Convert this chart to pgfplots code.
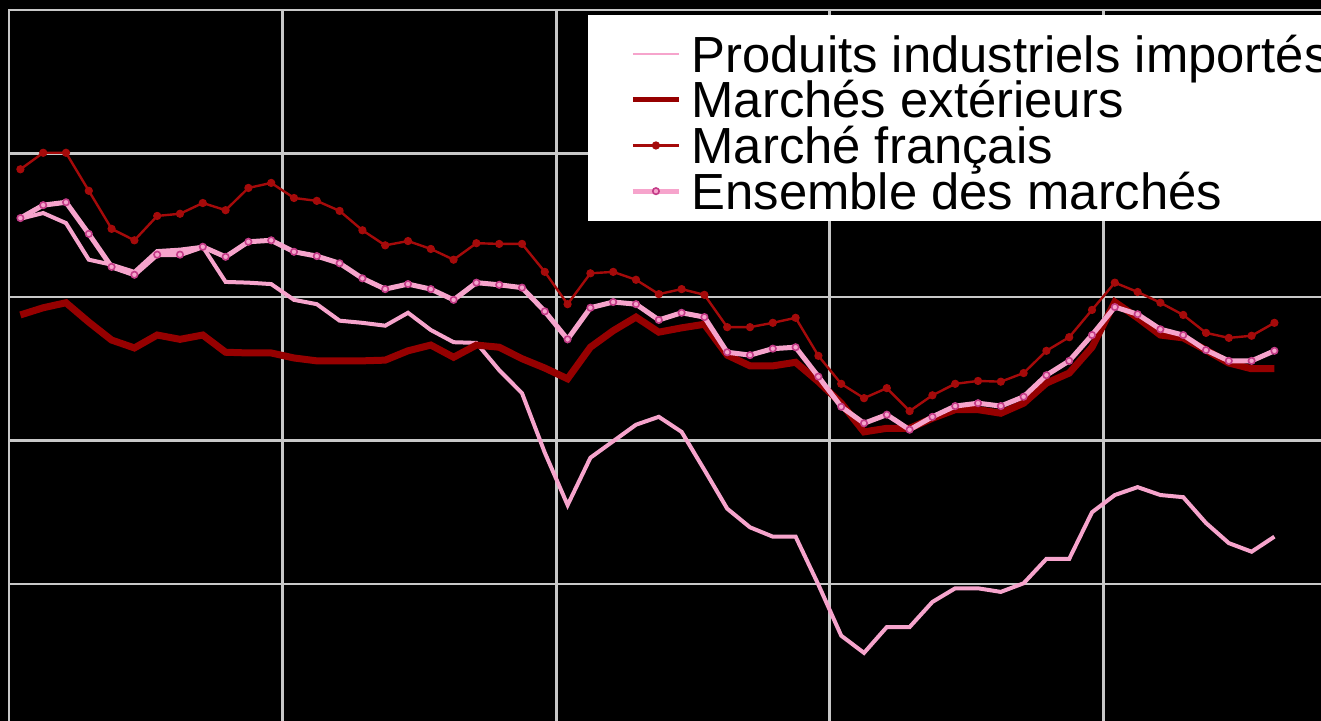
\documentclass[border=0pt]{standalone}
\usepackage{fontspec}
\setmainfont{Liberation Sans}
\usepackage{pgfplots}
\usepackage{pgfplotstable}
\pgfplotsset{compat=1.18}
\definecolor{gridgray}{RGB}{200,200,200}
\definecolor{pinkline}{RGB}{246,164,204}
\definecolor{mered}{RGB}{150,0,0}
\definecolor{mfred}{RGB}{165,10,10}
\definecolor{markpink}{RGB}{196,60,136}
\pgfplotstableread{
x PI ME MF EM
0 1.09 -0.25 1.78 1.10
1 1.17 -0.15 2.01 1.28
2 1.03 -0.08 2.01 1.32
3 0.52 -0.35 1.48 0.88
4 0.45 -0.60 0.95 0.42
5 0.35 -0.71 0.79 0.31
6 0.64 -0.53 1.13 0.59
7 0.66 -0.59 1.16 0.59
8 0.70 -0.53 1.31 0.70
9 0.21 -0.77 1.21 0.56
10 0.20 -0.78 1.52 0.77
11 0.18 -0.78 1.59 0.79
12 -0.04 -0.85 1.38 0.63
13 -0.10 -0.89 1.34 0.57
14 -0.33 -0.89 1.20 0.47
15 -0.36 -0.89 0.93 0.26
16 -0.40 -0.88 0.72 0.11
17 -0.22 -0.75 0.78 0.18
18 -0.46 -0.67 0.67 0.11
19 -0.63 -0.84 0.52 -0.04
20 -0.64 -0.67 0.75 0.20
21 -1.02 -0.70 0.74 0.17
22 -1.34 -0.86 0.74 0.13
23 -2.17 -0.99 0.35 -0.20
24 -2.90 -1.14 -0.10 -0.59
25 -2.24 -0.70 0.33 -0.15
26 -2.01 -0.47 0.35 -0.07
27 -1.78 -0.28 0.24 -0.10
28 -1.67 -0.49 0.04 -0.32
29 -1.88 -0.43 0.11 -0.22
30 -2.41 -0.38 0.03 -0.28
31 -2.95 -0.81 -0.42 -0.77
32 -3.21 -0.96 -0.42 -0.81
33 -3.34 -0.96 -0.36 -0.72
34 -3.34 -0.91 -0.29 -0.70
35 -4.01 -1.18 -0.82 -1.11
36 -4.72 -1.48 -1.21 -1.53
37 -4.96 -1.88 -1.41 -1.76
38 -4.60 -1.83 -1.27 -1.64
39 -4.60 -1.83 -1.59 -1.85
40 -4.25 -1.69 -1.37 -1.67
41 -4.06 -1.57 -1.21 -1.52
42 -4.06 -1.57 -1.17 -1.48
43 -4.11 -1.62 -1.18 -1.52
44 -3.99 -1.48 -1.06 -1.39
45 -3.65 -1.20 -0.75 -1.09
46 -3.65 -1.06 -0.56 -0.89
47 -3.00 -0.70 -0.18 -0.53
48 -2.76 -0.07 0.20 -0.14
49 -2.65 -0.29 0.07 -0.24
50 -2.76 -0.53 -0.08 -0.45
51 -2.79 -0.57 -0.25 -0.53
52 -3.15 -0.74 -0.50 -0.74
53 -3.43 -0.92 -0.57 -0.89
54 -3.55 -1.00 -0.54 -0.89
55 -3.34 -1.00 -0.36 -0.75
}\datatable
\begin{document}
\begin{tikzpicture}
\useasboundingbox (0,0) rectangle (660.5pt,-360.5pt);
\fill[black] (0,0) rectangle (660.5pt,-360.5pt);
\clip (0,0) rectangle (660.5pt,-360.5pt);
\begin{axis}[
  at={(4.5pt,-5pt)}, anchor=north west,
  scale only axis, width=684pt, height=358.75pt,
  xmin=-0.5, xmax=59.5, ymin=-6, ymax=4,
  xtick={11.5,23.5,35.5,47.5}, ytick={-4,-2,0,2},
  xticklabels={}, yticklabels={},
  major tick length=0pt,
  grid=major,
  major grid style={line width=1.4pt, color=gridgray},
  axis line style={line width=1.4pt, color=gridgray},
  axis background/.style={fill=black},
  legend cell align=left,
  legend image code/.code={\draw[mark repeat=2,mark phase=2,#1] plot coordinates {(0pt,-2.3pt) (11.5pt,-2.3pt) (23pt,-2.3pt)};},
  legend style={
    at={(axis description cs:0.4232,0.993)}, anchor=north west,
    fill=white, draw=none,
    font=\fontsize{25.4}{23}\selectfont,
    inner xsep=21pt, inner ysep=5.6pt,
    nodes={inner sep=0pt, text height=22.7pt, text depth=0.15pt},
    column sep=5pt, row sep=0pt,
  },
]
\addplot[color=pinkline, line width=2pt, legend image post style={line width=1.3pt}] table[x=x, y=PI] {\datatable};
\addlegendentry{Produits industriels importés}
\addplot[color=mered, line width=3.5pt, legend image post style={line width=2.6pt}] table[x=x, y=ME] {\datatable};
\addlegendentry{Marchés extérieurs}
\addplot[color=mfred, line width=1.2pt, mark=*, mark size=1.8pt, mark options={fill=mfred, draw=mfred, line width=0.5pt}] table[x=x, y=MF] {\datatable};
\addlegendentry{Marché français}
\addplot[color=pinkline, line width=2.5pt, mark=*, mark size=1.6pt, mark options={fill=pinkline, draw=markpink, line width=0.8pt}] table[x=x, y=EM] {\datatable};
\addlegendentry{Ensemble des marchés}
\end{axis}
\end{tikzpicture}
\end{document}
